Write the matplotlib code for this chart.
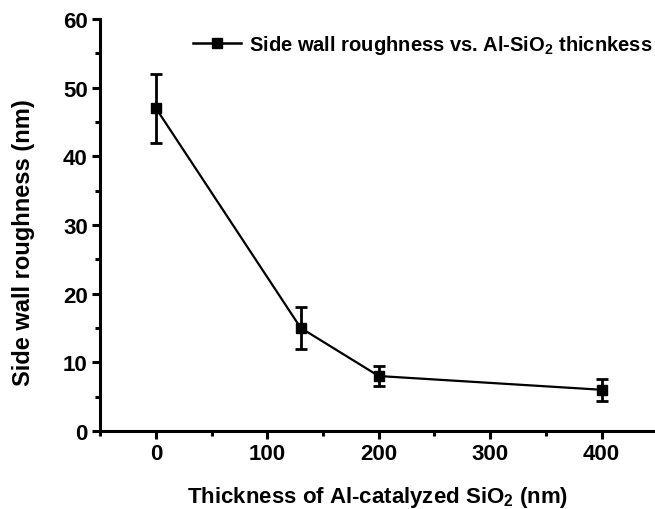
import matplotlib
matplotlib.use("Agg")
import matplotlib.pyplot as plt
from matplotlib.ticker import MultipleLocator
from matplotlib.lines import Line2D

plt.rcParams['font.family'] = ['Liberation Sans', 'DejaVu Sans']
plt.rcParams['font.weight'] = 'bold'
plt.rcParams['mathtext.fontset'] = 'custom'
plt.rcParams['mathtext.rm'] = 'Liberation Sans:bold'
plt.rcParams['mathtext.it'] = 'Liberation Sans:bold'
plt.rcParams['mathtext.bf'] = 'Liberation Sans:bold'

# data
thickness = [0, 130, 200, 400]
roughness = [47, 15, 8, 6]
roughness_err = [5, 3, 1.5, 1.6]
legend_label = r'Side wall roughness vs. Al-SiO$_2$ thicnkess'

fig = plt.figure(figsize=(6.55, 5.1), dpi=100)
ax = fig.add_axes([0.153, 0.153, 0.847, 0.808])

ax.errorbar(thickness, roughness, yerr=roughness_err, color='black', lw=1.6,
            marker='s', markersize=6.5, capsize=4, capthick=2, elinewidth=2)

ax.set_xlim(-50, 448)
ax.set_ylim(0, 60)
ax.xaxis.set_major_locator(MultipleLocator(100))
ax.xaxis.set_minor_locator(MultipleLocator(50))
ax.yaxis.set_major_locator(MultipleLocator(10))
ax.yaxis.set_minor_locator(MultipleLocator(5))

for s in ['top', 'right']:
    ax.spines[s].set_visible(False)
for s in ['left', 'bottom']:
    ax.spines[s].set_linewidth(2.2)

ax.tick_params(which='major', direction='out', length=5.5, width=2.2, labelsize=16)
ax.tick_params(which='minor', direction='out', length=3.5, width=2.2)
for lab in ax.get_xticklabels() + ax.get_yticklabels():
    lab.set_fontweight('bold')

ax.set_xlabel(r'Thickness of Al-catalyzed SiO$_2$ (nm)', fontsize=16,
              fontweight='bold', labelpad=14)
ax.set_ylabel('Side wall roughness (nm)', fontsize=17, fontweight='bold')
ax.yaxis.set_label_coords(-0.118, 0.46)

handle = Line2D([], [], color='black', lw=1.8, marker='s', markersize=6.5)
leg = ax.legend([handle], [legend_label], loc='upper right', frameon=False,
                fontsize=14.5, handlelength=2.4, handletextpad=0.4,
                borderaxespad=0.0, bbox_to_anchor=(1.01, 0.985))
for t in leg.get_texts():
    t.set_fontweight('bold')

fig.savefig('out.png', dpi=100)
